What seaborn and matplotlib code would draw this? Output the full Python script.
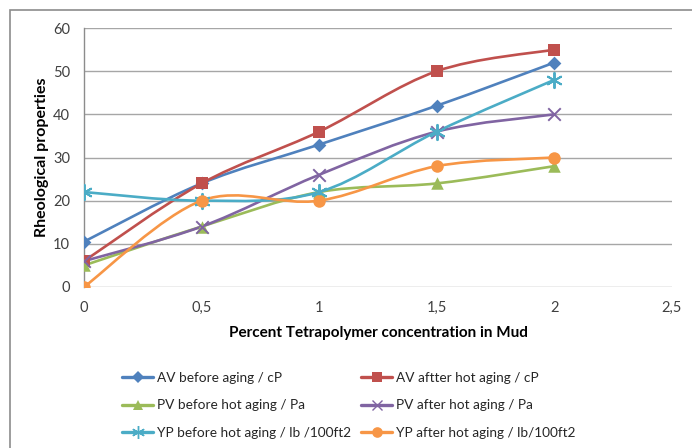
import numpy as np
import pandas as pd
import matplotlib
matplotlib.use("Agg")
import matplotlib.pyplot as plt
from matplotlib.path import Path
from matplotlib.patches import PathPatch, Rectangle
from matplotlib.lines import Line2D
import seaborn as sns

# ---- data ----
concentration = [0, 0.5, 1, 1.5, 2]
av_before = [10.5, 24, 33, 42, 52]
av_after = [6, 24, 36, 50, 55]
pv_before = [5, 14, 22, 24, 28]
pv_after = [6, 14, 26, 36, 40]
yp_before = [22, 20, 22, 36, 48]
yp_after = [0, 20, 20, 28, 30]
series_names = ["AV before aging / cP", "AV aftter hot aging / cP",
                "PV before hot aging / Pa", "PV after hot aging / Pa",
                "YP before hot aging / lb /100ft2", "YP after hot aging / lb/100ft2"]
series_values = [av_before, av_after, pv_before, pv_after, yp_before, yp_after]
x_ticks = [0, 0.5, 1, 1.5, 2, 2.5]
x_tick_labels = ["0", "0,5", "1", "1,5", "2", "2,5"]
y_ticks = [0, 10, 20, 30, 40, 50, 60]

colors = ["#4F81BD", "#C0504D", "#9BBB59", "#8064A2", "#4BACC6", "#F79646"]
markers = ["D", "s", "^", "x", (6, 2, 0), "o"]
msizes = [7, 9, 9, 9, 11, 9]

sns.set_theme(style="white")
plt.rcParams["font.family"] = ["Lato", "DejaVu Sans"]

W, H = 692, 448
fig = plt.figure(figsize=(W / 100, H / 100), dpi=100)
fig.patches.append(Rectangle((10 / W, -0.01), 1.0, 1 - 10 / H + 0.01, transform=fig.transFigure,
                             fill=False, edgecolor="#8C8C8C", linewidth=1.2, zorder=0))

ax = fig.add_axes([84 / W, (H - 287) / H, (672 - 84) / W, (287 - 28) / H])


def smooth_path(xs, ys):
    pts = np.column_stack([xs, ys]).astype(float)
    n = len(pts)
    verts = [tuple(pts[0])]
    codes = [Path.MOVETO]
    for i in range(n - 1):
        p0 = pts[i - 1] if i > 0 else pts[i]
        p1 = pts[i]
        p2 = pts[i + 1]
        p3 = pts[i + 2] if i + 2 < n else pts[i + 1]
        c1 = p1 + (p2 - p0) / 6.0
        c2 = p2 - (p3 - p1) / 6.0
        verts += [tuple(c1), tuple(c2), tuple(p2)]
        codes += [Path.CURVE4] * 3
    return Path(verts, codes)


rows = []
for name, vals in zip(series_names, series_values):
    for xv, yv in zip(concentration, vals):
        rows.append({"conc": xv, "value": yv, "series": name})
df = pd.DataFrame(rows)

LW = 1.9
handles = []
for i, (name, vals) in enumerate(zip(series_names, series_values)):
    patch = PathPatch(smooth_path(concentration, vals), facecolor="none",
                      edgecolor=colors[i], linewidth=LW, zorder=3 + i * 0.1)
    ax.add_patch(patch)
    sub = df[df["series"] == name]
    mk = markers[i]
    is_line = (mk == "x") or isinstance(mk, tuple)
    kw = dict(s=msizes[i] ** 2, color=colors[i], zorder=4 + i * 0.1, ax=ax, legend=False)
    if is_line:
        sns.scatterplot(data=sub, x="conc", y="value", marker=mk, linewidth=1.4,
                        edgecolor=colors[i], **kw)
    else:
        sns.scatterplot(data=sub, x="conc", y="value", marker=mk, linewidth=0, **kw)
    handles.append(Line2D([], [], color=colors[i], linewidth=LW + 0.5, marker=mk,
                          markersize=msizes[i] * 0.85,
                          markeredgewidth=1.0 if is_line else 0, label=name))

ax.set_xlim(0, 2.5)
ax.set_ylim(0, 60)
ax.set_xticks(x_ticks)
ax.set_xticklabels(x_tick_labels)
ax.set_yticks(y_ticks)
ax.grid(axis="y", color="#A6A6A6", linewidth=1.0)
ax.grid(axis="x", visible=False)
for s in ["top", "right", "bottom"]:
    ax.spines[s].set_visible(False)
ax.spines["left"].set_color("#8C8C8C")
ax.spines["left"].set_linewidth(1.0)
ax.tick_params(axis="both", length=0, labelsize=10.5, colors="#404040")
ax.tick_params(axis="y", pad=10)
ax.tick_params(axis="x", pad=10)
ax.set_xlabel("Percent Tetrapolymer concentration in Mud", fontsize=11,
              fontweight="bold", color="#000000", labelpad=8)
ax.set_ylabel("Rheological properties", fontsize=11.5, fontweight="bold",
              color="#000000")
ax.yaxis.set_label_coords((49 - 84) / 588, 0.5)
ax.set_axisbelow(True)

leg_kw = dict(frameon=False, fontsize=9.8, handlelength=2.3, labelspacing=1.13,
              handletextpad=0.25, borderaxespad=0, borderpad=0)
leg1 = fig.legend(handles=handles[0::2], loc="upper left",
                  bbox_to_anchor=(122 / W, 1 - 372 / H), **leg_kw)
leg2 = fig.legend(handles=handles[1::2], loc="upper left",
                  bbox_to_anchor=(361 / W, 1 - 372 / H), **leg_kw)

fig.savefig("out.png", dpi=100)
